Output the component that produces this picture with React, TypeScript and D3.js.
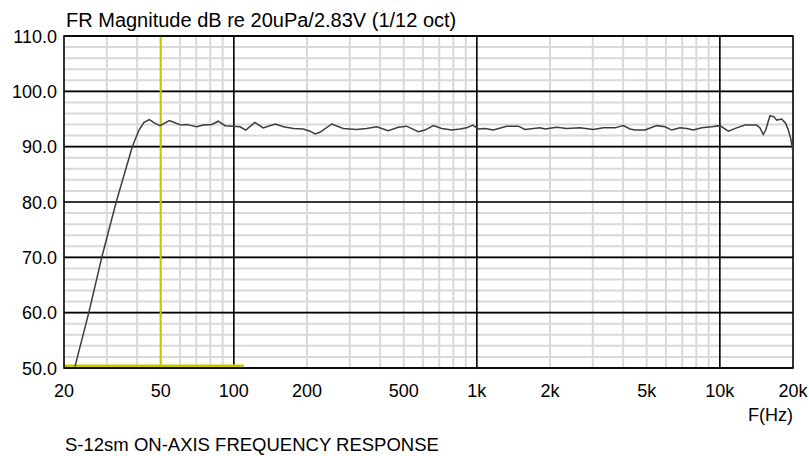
import React from 'react';
import * as d3 from 'd3';

// frequency response (Hz, dB)
const freqs = [
  22.2, 25.3, 28.6, 32.8, 38.2, 40.7, 42.7, 44.9, 47.4, 49.7, 54.3, 58.2, 61.0, 64.0, 67.1,
  70.3, 74.9, 81.1, 86.3, 92.0, 99.5, 106, 112, 122, 132, 148, 160, 176, 193, 206, 216, 226,
  253, 282, 320, 352, 387, 432, 475, 514, 574, 612, 662, 717, 788, 853, 908, 962, 1014, 1080,
  1169, 1327, 1481, 1578, 1819, 1907, 2131, 2343, 2658, 3016, 3315, 3703, 4006, 4268, 4476,
  4920, 5497, 5947, 6337, 6855, 7305, 7776, 8422, 9258, 10000, 10834, 11732, 12692, 14177,
  14628, 15093, 15442, 16082, 16704, 17138, 17970, 18666, 19132, 19568, 19944, 20000,
];
const levels = [
  50.3, 60.0, 70.0, 80.0, 90.0, 93.0, 94.4, 94.9, 94.2, 93.8, 94.7, 94.2, 93.9, 94.0, 93.8,
  93.6, 93.9, 94.0, 94.6, 93.8, 93.7, 93.6, 93.0, 94.4, 93.4, 94.1, 93.6, 93.3, 93.2, 92.8, 92.3, 92.6,
  94.1, 93.3, 93.1, 93.3, 93.6, 92.9, 93.5, 93.7, 92.7, 93.0, 93.8, 93.3, 93.0, 93.2, 93.4, 93.9, 93.2, 93.3,
  93.0, 93.7, 93.7, 93.1, 93.4, 93.2, 93.5, 93.3, 93.4, 93.1, 93.4, 93.4, 93.8, 93.2, 93.0,
  93.0, 93.8, 93.6, 93.0, 93.4, 93.3, 93.0, 93.4, 93.6, 93.8, 92.8, 93.4, 93.9, 93.9,
  93.4, 92.2, 93.0, 95.6, 95.4, 94.8, 95.0, 94.2, 93.0, 91.5, 89.4, 88.5,
];

const xTicks = [20, 50, 100, 200, 500, 1000, 2000, 5000, 10000, 20000];
const xTickLabels = ['20', '50', '100', '200', '500', '1k', '2k', '5k', '10k', '20k'];
const yTicks = [50, 60, 70, 80, 90, 100, 110];
const markerFreq = 50;
const bandRange = [20, 110];

const title = 'FR Magnitude dB re 20uPa/2.83V (1/12 oct)';
const caption = 'S-12sm ON-AXIS FREQUENCY RESPONSE';
const xLabel = 'F(Hz)';

const W = 809;
const H = 456;
const margin = { top: 36, right: 16, bottom: 88, left: 64 };

export default function App() {
  const x = d3.scaleLog().domain([20, 20000]).range([margin.left, W - margin.right]);
  const y = d3.scaleLinear().domain([50, 110]).range([H - margin.bottom, margin.top]);

  const minorX: number[] = [];
  for (const dec of [10, 100, 1000, 10000]) {
    for (let m = 2; m <= 9; m++) {
      const f = dec * m;
      if (f > 20 && f < 20000 && m !== 1) minorX.push(f);
    }
  }
  const minorY = d3.range(50, 110.1, 2);
  const majorX = [100, 1000, 10000];

  const line = d3
    .line<number>()
    .x((d, i) => x(freqs[i]))
    .y((d) => y(d));

  const font = "'Liberation Sans', Arial, sans-serif";
  const x0 = x.range()[0];
  const x1 = x.range()[1];
  const y0 = y.range()[0];
  const y1 = y.range()[1];

  return (
    <svg
      width={W}
      height={H}
      style={{ position: 'absolute', left: 0, top: 0, background: '#fff' }}
      fontFamily={font}
    >
      <rect width={W} height={H} fill="#fff" />
      {minorY.map((v) => (
        <line key={'gy' + v} x1={x0} x2={x1} y1={y(v)} y2={y(v)} stroke="#d9d9d9" strokeWidth={2} />
      ))}
      {minorX.map((f) => (
        <line key={'gx' + f} x1={x(f)} x2={x(f)} y1={y0} y2={y1} stroke="#d9d9d9" strokeWidth={2} />
      ))}
      {yTicks.map((v) => (
        <line key={'my' + v} x1={x0} x2={x1} y1={y(v)} y2={y(v)} stroke="#000" strokeWidth={1.6} />
      ))}
      {majorX.map((f) => (
        <line key={'mx' + f} x1={x(f)} x2={x(f)} y1={y0} y2={y1} stroke="#000" strokeWidth={1.6} />
      ))}
      <line x1={x(markerFreq)} x2={x(markerFreq)} y1={y0} y2={y1} stroke="#c8c800" strokeWidth={2} />
      <line
        x1={x(bandRange[0])}
        x2={x(bandRange[1])}
        y1={y0 - 2}
        y2={y0 - 2}
        stroke="#c8c800"
        strokeWidth={3}
      />
      <rect x={x0} y={y1} width={x1 - x0} height={y0 - y1} fill="none" stroke="#000" strokeWidth={1.6} />
      <path d={line(levels) || ''} fill="none" stroke="#3c3c3c" strokeWidth={1.5} />

      {yTicks.map((v) => (
        <text key={'yl' + v} x={57} y={y(v) + 6.5} textAnchor="end" fontSize={18} fill="#000">
          {v.toFixed(1)}
        </text>
      ))}
      {xTicks.map((f, i) => (
        <text key={'xl' + f} x={x(f)} y={397} textAnchor="middle" fontSize={18} fill="#000">
          {xTickLabels[i]}
        </text>
      ))}
      <text x={x1} y={421} textAnchor="end" fontSize={18} fill="#000">
        {xLabel}
      </text>
      <text x={66} y={27} fontSize={20} fill="#000">
        {title}
      </text>
      <text x={65} y={451} fontSize={18.5} fill="#000">
        {caption}
      </text>
    </svg>
  );
}
